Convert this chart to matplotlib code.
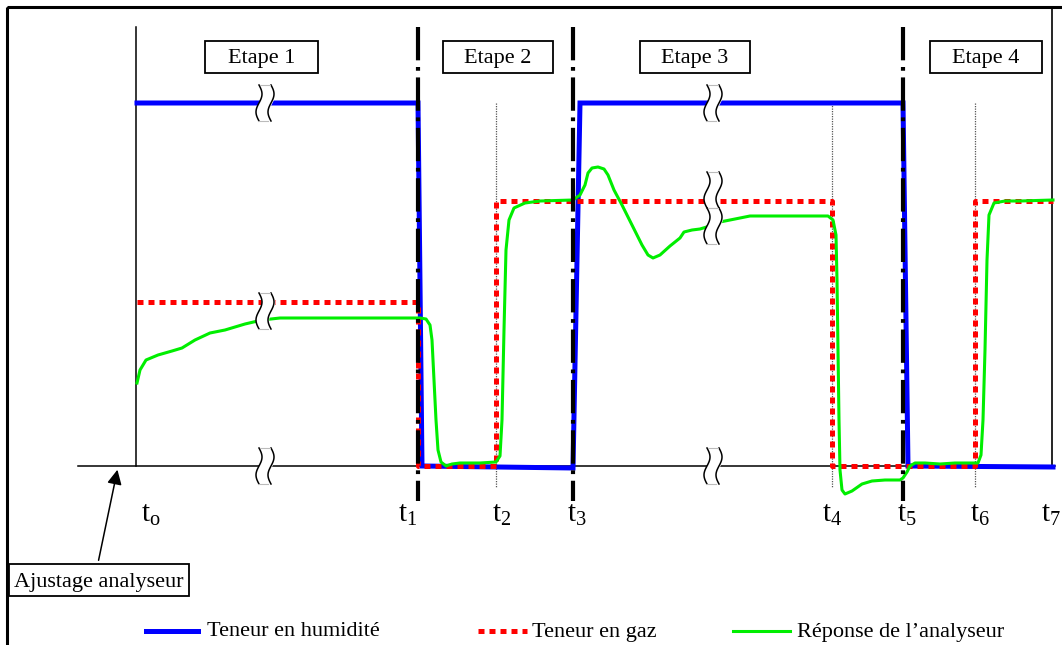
import matplotlib.pyplot as plt
import numpy as np
from matplotlib.patches import Rectangle

plt.rcParams['font.family'] = ['Liberation Serif', 'DejaVu Serif']
plt.rcParams['mathtext.fontset'] = 'custom'
plt.rcParams['mathtext.rm'] = 'Liberation Serif'

# schematic values (x: time, y: level, both in picture units)
hum_x = [137, 418, 422, 573, 580, 903, 908, 1053]
hum_y = [103, 103, 466, 468, 103, 103, 466, 467]

gas_x = [137, 418, 418, 496, 496, 832, 832, 975, 975, 1053]
gas_y = [302, 302, 466, 466, 201, 201, 466, 466, 201, 201]

resp_x = [137, 140, 146, 158, 172, 182, 195, 210, 225, 245, 262, 280, 300, 350, 420,
          426, 430, 432, 434, 436, 438, 441, 446, 452, 460, 480, 496, 500, 502, 504,
          506, 509, 514, 525, 540, 573, 580, 585, 588, 592, 598, 604, 608, 614, 622,
          632, 642, 648, 653, 660, 670, 680, 684, 692, 700, 710, 720, 735, 750, 770,
          800, 828, 833, 836, 837, 838, 839, 840, 842, 845, 852, 862, 872, 885, 900,
          903, 907, 910, 915, 925, 940, 955, 978, 981, 983, 985, 987, 989, 994, 1005,
          1020, 1053]
resp_y = [383, 370, 360, 355, 351, 348, 340, 333, 330, 324, 320, 318, 318, 318, 318,
          319, 325, 340, 380, 420, 450, 462, 466, 464, 463, 463, 462, 456, 420, 330,
          250, 220, 208, 203, 201, 200, 195, 185, 173, 168, 167, 169, 175, 190, 205,
          225, 245, 255, 258, 255, 246, 238, 232, 230, 229, 226, 222, 219, 216, 216,
          216, 216, 220, 235, 280, 350, 420, 470, 490, 494, 491, 484, 481, 480, 480,
          478, 472, 466, 463, 463, 464, 463, 463, 455, 420, 350, 260, 215, 203, 201,
          201, 200]

t_pos = [151, 408, 502, 577, 832, 907, 980, 1051]
t_labels = [r'$\mathrm{t}_{\mathrm{o}}$', r'$\mathrm{t}_{1}$', r'$\mathrm{t}_{2}$', r'$\mathrm{t}_{3}$',
            r'$\mathrm{t}_{4}$', r'$\mathrm{t}_{5}$', r'$\mathrm{t}_{6}$', r'$\mathrm{t}_{7}$']

stage_names = ['Etape 1', 'Etape 2', 'Etape 3', 'Etape 4']
stage_boxes = [(205, 318), (443, 553), (640, 750), (930, 1042)]

step_lines = [418, 573, 903]      # dash-dot boundaries
mark_lines = [496, 832, 975]      # thin dotted marks

breaks = [(265, 103), (265, 311), (265, 466), (713, 103), (713, 190), (713, 226), (713, 466)]

fig = plt.figure(figsize=(10.62, 6.45), dpi=100)
ax = fig.add_axes([0, 0, 1, 1])
ax.set_xlim(0, 1062)
ax.set_ylim(645, 0)
ax.axis('off')

# outer frame
ax.add_patch(Rectangle((7, 7), 1070, 660, fill=False, lw=2.2, ec='black'))
ax.plot([1052, 1052], [7, 466], color='black', lw=1.2)

# axes of the schematic
ax.plot([136, 136], [27, 466], color='black', lw=1.1)
ax.plot([78, 1055], [466, 466], color='black', lw=1.1)

for x in mark_lines:
    ax.plot([x, x], [103, 487], color='#555555', lw=0.9, ls=(0, (1, 1)))

ax.plot(hum_x, hum_y, color='#0000ff', lw=3.6, solid_joinstyle='miter', zorder=3)
ax.plot(gas_x, gas_y, color='#ff0000', lw=3.6, ls=(0, (1.2, 1.0)), dash_capstyle='butt', zorder=4)
ax.plot(resp_x, resp_y, color='#00ee00', lw=2.2, zorder=5)

for x in step_lines:
    ax.plot([x, x], [27, 501], color='black', lw=3, ls=(0, (8, 1.6, 0.9, 1.6)), zorder=6)

# break marks
s = np.linspace(0, 1, 40)
for cx, cy in breaks:
    yy = cy - 18 + 36 * s
    wob = 3 * np.sin(2 * np.pi * s)
    ax.fill_betweenx(yy, cx - 6 + wob, cx + 6 + wob, color='white', zorder=7)
    ax.plot(cx - 6 + wob, yy, color='black', lw=1.1, zorder=8)
    ax.plot(cx + 6 + wob, yy, color='black', lw=1.1, zorder=8)
    ax.plot([cx - 5, cx + 5], [cy - 18, cy - 18], color='#bbbbbb', lw=0.8, zorder=8)
    ax.plot([cx - 7, cx + 3], [cy + 18, cy + 18], color='#bbbbbb', lw=0.8, zorder=8)

# stage labels
for name, (x0, x1) in zip(stage_names, stage_boxes):
    ax.add_patch(Rectangle((x0, 41), x1 - x0, 32, fill=True, fc='white', ec='black', lw=1.3, zorder=9))
    ax.text((x0 + x1) / 2, 59, name, ha='center', va='center', fontsize=16, zorder=10)

for x, lab in zip(t_pos, t_labels):
    ax.text(x, 515, lab, ha='center', va='center', fontsize=21)

# adjustment annotation
ax.add_patch(Rectangle((9, 564), 180, 32, fill=True, fc='white', ec='black', lw=1.3, zorder=9))
ax.text(99, 582, 'Ajustage analyseur', ha='center', va='center', fontsize=16, zorder=10)
ax.annotate('', xy=(118, 467), xytext=(98, 563),
            arrowprops=dict(arrowstyle='-|>', color='black', lw=1.1, mutation_scale=22))

# legend
ax.plot([146, 198], [631, 631], color='#0000ff', lw=3.6)
ax.text(207, 632, 'Teneur en humidité', ha='left', va='center', fontsize=16)
ax.plot([478, 527], [631, 631], color='#ff0000', lw=3.6, ls=(0, (1.2, 1.0)))
ax.text(532, 632, 'Teneur en gaz', ha='left', va='center', fontsize=16)
ax.plot([733, 790], [631, 631], color='#00ee00', lw=2.2)
ax.text(797, 632, 'Réponse de l\u2019analyseur', ha='left', va='center', fontsize=16)

fig.savefig('out.png', dpi=100)
